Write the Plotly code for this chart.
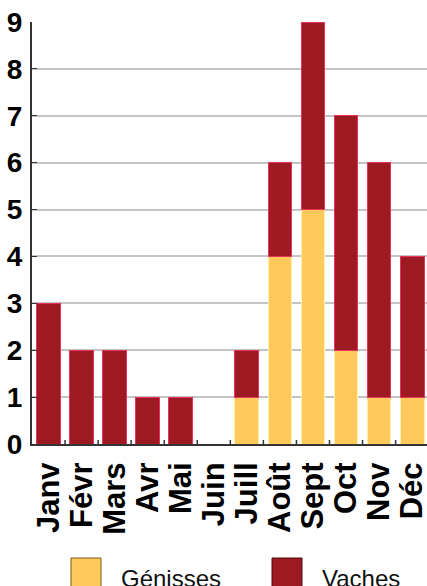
import plotly.graph_objects as go

months = ["Janv", "Févr", "Mars", "Avr", "Mai", "Juin", "Juill", "Août", "Sept", "Oct", "Nov", "Déc"]
genisses = [0, 0, 0, 0, 0, 0, 1, 4, 5, 2, 1, 1]
vaches = [3, 2, 2, 1, 1, 0, 1, 2, 4, 5, 5, 3]
y_ticks = [0, 1, 2, 3, 4, 5, 6, 7, 8, 9]

C_GEN = "#FFC95C"
C_VAC = "#9E1A22"

W, H = 427, 586
L, T, B = 32, 22, 142
PW, PH = W - L, H - T - B

fig = go.Figure()
fig.add_trace(go.Bar(x=months, y=genisses, name="Génisses",
                     marker=dict(color=C_GEN, line=dict(color="#FFF2A8", width=1)), width=0.72))
fig.add_trace(go.Bar(x=months, y=vaches, name="Vaches",
                     marker=dict(color=C_VAC, line=dict(color="#E8345A", width=1)), width=0.72))

fig.update_layout(
    barmode="stack",
    width=W, height=H,
    margin=dict(l=L, r=0, t=T, b=B, autoexpand=False),
    plot_bgcolor="white", paper_bgcolor="white",
    showlegend=False,
    font=dict(family="Liberation Sans, Arial, sans-serif", color="black"),
    xaxis=dict(
        range=[-0.5, 11.45], tickangle=-90, dtick=1, tickmode="linear", tick0=0,
        tickfont=dict(size=31, family="Liberation Sans, Arial", weight="bold"),
        showline=True, linecolor="#333333", linewidth=2,
        ticks="", showgrid=False, ticklabelstandoff=4, ticklabeloverflow="allow",
    ),
    yaxis=dict(
        range=[0, 9], tickvals=y_ticks,
        tickfont=dict(size=28, family="Liberation Sans, Arial", weight="bold"),
        showline=True, linecolor="#333333", linewidth=2,
        gridcolor="#C4C4C4", gridwidth=2,
        ticks="inside", ticklen=5, tickcolor="#333333",
        zeroline=False, ticklabelstandoff=2, ticklabeloverflow="allow",
    ),
)

# category boundary ticks on x-axis
for i in range(12):
    fig.add_shape(type="line", xref="x", yref="paper", x0=i + 0.5, x1=i + 0.5, y0=0, y1=4 / PH,
                  line=dict(color="#333333", width=1.5))

# legend swatches and labels
for px, col, lc, tx, label in [(71, C_GEN, "#7A5A10", 119, "Génisses"), (272, C_VAC, "#4A0A0A", 320, "Vaches")]:
    fig.add_shape(type="rect", xref="paper", yref="paper",
                  x0=(px - L) / PW, x1=(px + 30 - L) / PW,
                  y0=(T + PH - (H + 4)) / PH, y1=(T + PH - 558) / PH,
                  fillcolor=col, line=dict(color=lc, width=1))
    fig.add_annotation(xref="paper", yref="paper", x=(tx - L) / PW, y=(T + PH - 578) / PH,
                       text=label, showarrow=False, xanchor="left", yanchor="middle",
                       font=dict(size=24, color="#111111"))

fig.write_html("out.html", config={"displayModeBar": False},
               post_script="document.body.style.margin='0';document.body.style.overflow='hidden';")
